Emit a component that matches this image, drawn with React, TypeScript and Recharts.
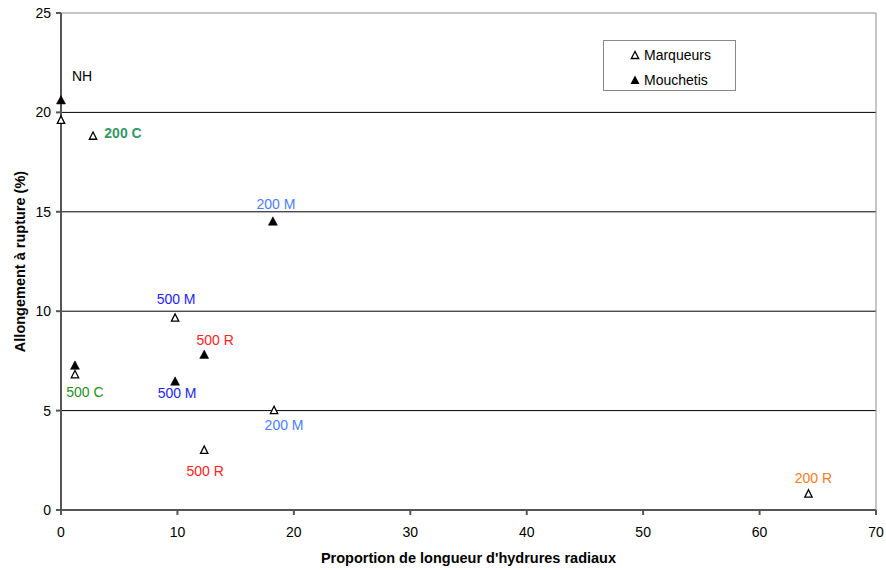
import { ScatterChart, Scatter, XAxis, YAxis, CartesianGrid, ReferenceLine } from 'recharts';

const xTicks = [0, 10, 20, 30, 40, 50, 60, 70];
const yTicks = [0, 5, 10, 15, 20, 25];

// Marqueurs (open triangles)
const marqueursX = [0, 2.75, 9.8, 1.2, 18.3, 12.3, 64.2];
const marqueursY = [19.6, 18.8, 9.65, 6.8, 5.0, 3.0, 0.8];
const marqueursLabels = ['', '200 C', '500 M', '500 C', '200 M', '500 R', '200 R'];

// Mouchetis (filled triangles)
const mouchetisX = [0, 18.2, 12.3, 1.2, 9.8];
const mouchetisY = [20.6, 14.5, 7.8, 7.25, 6.45];
const mouchetisLabels = ['NH', '200 M', '500 R', '', '500 M'];

// label placement relative to the marker, per point
const marqueursOffsets = [[0, 0], [30, -3], [1, -19], [10, 17], [10, 14], [1, 21], [5, -16]];
const mouchetisOffsets = [[21, -24], [3, -18], [11, -15], [0, 0], [2, 11]];

const labelColors: Record<string, string> = {
  NH: '#000000',
  '200 C': '#339966',
  '500 C': '#1f8f1f',
  '500 M': '#2222ff',
  '200 M': '#4a7dff',
  '500 R': '#ff2222',
  '200 R': '#ff7722',
};

const FONT = '"Liberation Sans", Arial, sans-serif';

const toRows = (xs: number[], ys: number[], labels: string[]) =>
  xs.map((x, i) => ({ x, y: ys[i], label: labels[i], i }));

const marqueurs = toRows(marqueursX, marqueursY, marqueursLabels);
const mouchetis = toRows(mouchetisX, mouchetisY, mouchetisLabels);

const makeShape = (filled: boolean, offsets: number[][]) => (props: any) => {
  const { cx, cy, payload } = props;
  const [dx, dy] = offsets[payload.i];
  const pts = filled
    ? `${cx},${cy - 5} ${cx - 4.5},${cy + 3.5} ${cx + 4.5},${cy + 3.5}`
    : `${cx},${cy - 4.3} ${cx - 3.7},${cy + 3} ${cx + 3.7},${cy + 3}`;
  return (
    <g>
      <polygon
        points={pts}
        fill={filled ? '#000' : '#fff'}
        stroke="#000"
        strokeWidth={filled ? 0.5 : 1.3}
        strokeLinejoin="miter"
      />
      {payload.label && (
        <text
          x={cx + dx}
          y={cy + dy}
          textAnchor="middle"
          dominantBaseline="central"
          fontSize={14}
          fontWeight={payload.label === '200 C' ? 'bold' : 'normal'}
          fill={labelColors[payload.label]}
          fontFamily={FONT}
        >
          {payload.label}
        </text>
      )}
    </g>
  );
};

export default function App() {
  return (
    <div style={{ position: 'absolute', left: 0, top: 0, width: 886, height: 570, background: '#fff', fontFamily: FONT }}>
      <ScatterChart width={886} height={570} margin={{ top: 13, right: 10, left: 0, bottom: 0 }}>
        <CartesianGrid horizontalValues={[5, 10, 15, 20]} vertical={false} stroke="#000" strokeWidth={1} />
        <ReferenceLine y={25} stroke="#8c8c8c" />
        <ReferenceLine x={70} stroke="#8c8c8c" />
        <XAxis
          type="number"
          dataKey="x"
          domain={[0, 70]}
          ticks={xTicks}
          height={60}
          stroke="#555"
          strokeWidth={2}
          tickSize={5}
          tickMargin={12}
          tick={{ fill: '#000', fontSize: 14, fontFamily: FONT }}
          label={{
            value: "Proportion de longueur d'hydrures radiaux",
            position: 'insideBottom',
            offset: 7,
            style: { fontWeight: 'bold', fontSize: 14.5, fill: '#000', fontFamily: FONT },
          }}
        />
        <YAxis
          type="number"
          dataKey="y"
          domain={[0, 25]}
          ticks={yTicks}
          width={61}
          stroke="#555"
          strokeWidth={2}
          tickSize={5}
          tickMargin={5}
          tick={{ fill: '#000', fontSize: 14, fontFamily: FONT }}
          label={{
            value: 'Allongement à rupture (%)',
            position: 'center',
            angle: -90,
            dx: -11,
            style: { fontWeight: 'bold', fontSize: 14.5, fill: '#000', fontFamily: FONT },
          }}
        />
        <Scatter name="Marqueurs" data={marqueurs} shape={makeShape(false, marqueursOffsets)} isAnimationActive={false} />
        <Scatter name="Mouchetis" data={mouchetis} shape={makeShape(true, mouchetisOffsets)} isAnimationActive={false} />
      </ScatterChart>
      <div
        style={{
          position: 'absolute',
          left: 603,
          top: 40,
          width: 131,
          height: 49,
          border: '1px solid #888',
          background: '#fff',
          fontSize: 14,
          color: '#000',
        }}
      >
        <div style={{ position: 'absolute', left: 26, top: 5, display: 'flex', alignItems: 'center', height: 18 }}>
          <svg width={10} height={10} style={{ marginRight: 4 }}>
            <polygon points="5,1.5 1.3,8.5 8.7,8.5" fill="#fff" stroke="#000" strokeWidth={1.3} />
          </svg>
          Marqueurs
        </div>
        <div style={{ position: 'absolute', left: 26, top: 30, display: 'flex', alignItems: 'center', height: 18 }}>
          <svg width={10} height={10} style={{ marginRight: 4 }}>
            <polygon points="5,0.5 0.5,9 9.5,9" fill="#000" />
          </svg>
          Mouchetis
        </div>
      </div>
    </div>
  );
}
